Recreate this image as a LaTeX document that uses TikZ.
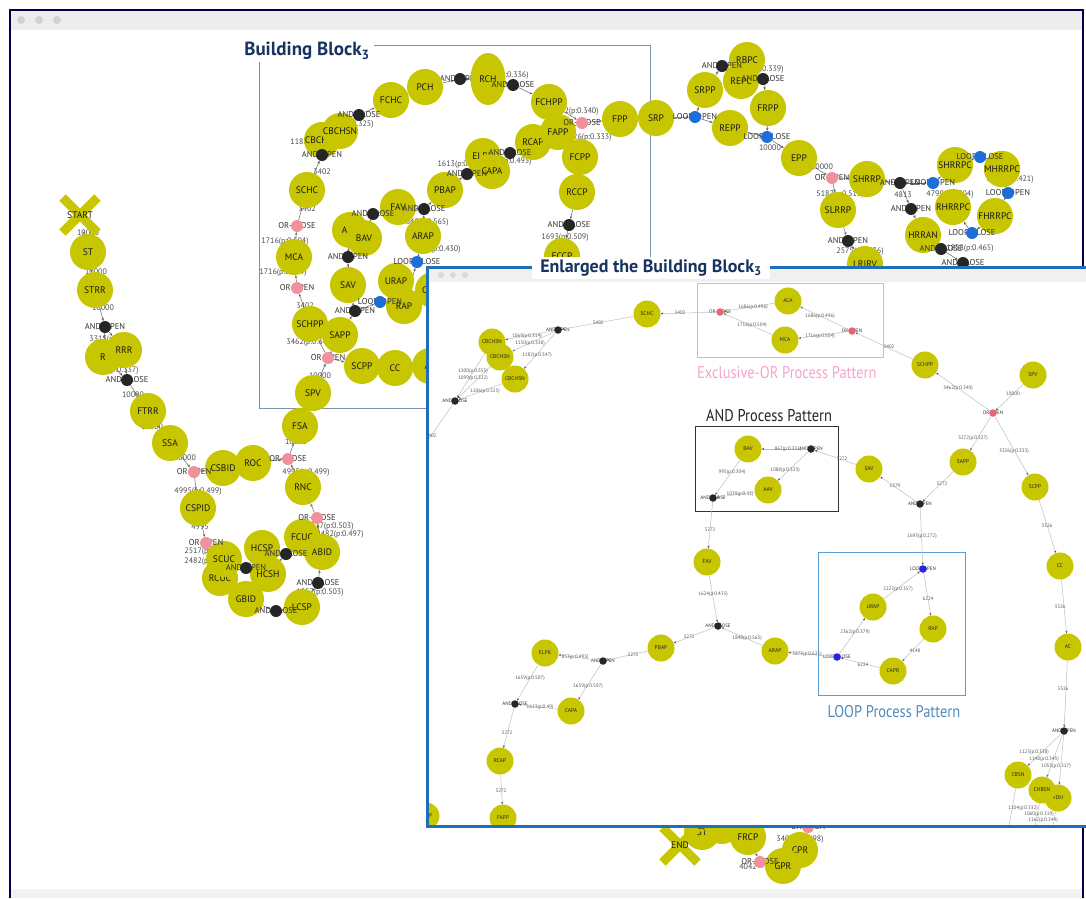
\documentclass[tikz,border=0pt]{standalone}
\usepackage{fontspec}
\setsansfont{PT Sans}
\newfontfamily\patfont{PT Sans}[FakeStretch=0.85]
\usetikzlibrary{arrows.meta,shapes.misc,shapes.geometric}
\definecolor{yel}{RGB}{200,198,0}
\definecolor{andc}{RGB}{38,38,38}
\definecolor{orc}{RGB}{240,145,155}
\definecolor{lpc}{RGB}{30,110,215}
\definecolor{iorc}{RGB}{232,100,115}
\definecolor{ilpc}{RGB}{35,35,225}
\definecolor{navy}{RGB}{22,52,96}
\definecolor{winblue}{RGB}{30,110,185}
\definecolor{xorpink}{RGB}{245,165,205}
\definecolor{loopblue}{RGB}{90,155,210}
\definecolor{bbgray}{RGB}{125,145,170}
\pgfdeclarelayer{gedge}
\pgfsetlayers{gedge,main}
\newcommand\gatenode[5]{\node[gtxt](#1t)at(#2,#3){#4};\node[gdot,fill=#5](#1)at(#2,#3){};}
\tikzset{act/.style={circle,fill=yel,minimum size=36pt,inner sep=0pt,font=\sffamily\fontsize{9.5}{9.5}\selectfont,text=black!90},
gtxt/.style={inner sep=0pt,font=\sffamily\fontsize{8.5}{8.5}\selectfont,text=black!80},
gdot/.style={circle,minimum size=12pt,inner sep=0pt},
elab/.style={inner sep=0pt,font=\sffamily\fontsize{8}{8}\selectfont,text=black!70},
flow/.style={draw=black!60,line width=.5pt,->},
xnode/.style={cross out,draw=yel,line width=9pt,minimum size=26pt,inner sep=0pt},
xtxt/.style={inner sep=0pt,font=\sffamily\fontsize{9.5}{9.5}\selectfont,text=black!90}}
\begin{document}
\begin{tikzpicture}[x=1pt,y=-1pt,>={Stealth[length=3pt,width=2.5pt]}]
\useasboundingbox(0,0)rectangle(1086,898);
\begin{pgfonlayer}{gedge}
\fill[white](0,0)rectangle(1086,898);
\fill[black!7](10,10)rectangle(1083,30);\fill[black!5](10,889)rectangle(1083,898);
\fill[black!18](21,20)circle(4pt);\fill[black!18](39,20)circle(4pt);\fill[black!18](57,20)circle(4pt);
\draw[black!70!blue,line width=1.5pt](10,898)--(10,10)--(1083,10)--(1083,898);
\draw[bbgray,line width=1pt](259,45)rectangle(650,408);
\end{pgfonlayer}
\node[act](st)at(88,252){ST};\node[act](strr)at(95,290){STRR};
\node[act](rr)at(103,357){R};\node[act](rrr)at(124,350){RRR};
\node[act](ftrr)at(148,411){FTRR};\node[act](ssa)at(170,443){SSA};
\node[act](csbid)at(223,468){CSBID};\node[act](roc)at(253,463){ROC};
\node[act](cspid)at(198,508){CSPID};\node[act](rcuc)at(220,578){RCUC};\node[act](scuc)at(224,559){SCUC};
\node[act](hcsp)at(262,548){HCSP};\node[act](hcsh)at(268,574){HCSH};
\node[act](gbid)at(246,599){GBID};\node[act](lcsp)at(302,607){LCSP};
\node[act](fcuc)at(302,537){FCUC};\node[act](abid)at(322,552){ABID};
\node[act](rnc)at(303,487){RNC};\node[act](fsa)at(300,426){FSA};\node[act](spv)at(313,393){SPV};
\node[act](schpp)at(310,324){SCHPP};\node[act](sapp)at(340,335){SAPP};
\node[act](scpp)at(362,366){SCPP};\node[act](cc)at(395,368){CC};\node[act](ac)at(430,366){AC};
\node[act](sav)at(348,285){SAV};\node[act](urap)at(396,281){URAP};\node[act](rap)at(404,306){RAP};
\node[act](capr)at(433,290){CAPR};
\node[act](mca)at(294,257){MCA};\node[act](schc)at(307,190){SCHC};
\node[act](aav)at(350,230){AAV};\node[act](bav)at(364,238){BAV};
\node[act](fav)at(398,207){FAV};\node[act](arap)at(423,236){ARAP};\node[act](pbap)at(445,190){PBAP};
\node[act](elpk)at(483,156){ELPK};\node[act](capa)at(492,171){CAPA};
\node[act](rcap)at(533,142){RCAP};\node[act](fchpp)at(549,102){FCHPP};\node[act](fapp)at(558,132){FAPP};
\node[act](fcpp)at(580,157){FCPP};\node[act](rccp)at(577,192){RCCP};\node[act](fccp)at(562,256){FCCP};
\node[act](fpp)at(620,119){FPP};\node[act](srp)at(656,118){SRP};
\gatenode{g24}{460}{79}{AND-OPEN}{andc}
\node[act,ellipse,minimum width=35pt,minimum height=52pt](rch)at(488,79){RCH};
\node[act](pch)at(425,87){PCH};\node[act](fchc)at(391,100){FCHC};
\node[act](cbchsnb)at(322,140){CBCHSN};\node[act](cbchsn)at(340,131){CBCHSN};
\node[act](srpp)at(705,90){SRPP};\node[act](repp)at(730,128){REPP};
\node[act](repc)at(741,81){REPC};\node[act](rbpc)at(747,60){RBPC};
\node[act](frpp)at(768,108){FRPP};\node[act](epp)at(799,158){EPP};
\node[act](shrrp)at(867,179){SHRRP};\node[act](slrrp)at(838,210){SLRRP};\node[act](lrirv)at(865,264){LRIRV};
\node[act](shrrpc)at(955,165){SHRRPC};\node[act](mhrrpc)at(1002,169){MHRRPC};
\node[act](rhrrpc)at(953,207){RHRRPC};\node[act](fhrrpc)at(995,216){FHRRPC};\node[act](hrran)at(923,235){HRRAN};
\node[act](ct)at(702,832){ST};\node[act](cu)at(722,826){};
\node[act](frcp)at(748,837){FRCP};\node[act](cpr)at(800,850){CPR};\node[act](gpr)at(783,866){GPR};
\node[xnode](start)at(80,215){};\node[xtxt](startt)at(80,215){START};
\node[xnode](endx)at(680,845){};\node[xtxt](endt)at(680,845){END};
\gatenode{g1}{105}{327}{AND-OPEN}{andc}\gatenode{g2}{127}{380}{AND-CLOSE}{andc}
\gatenode{g3}{194}{472}{OR-OPEN}{orc}\gatenode{g4}{288}{459}{OR-CLOSE}{orc}
\gatenode{g5}{206}{543}{OR-OPEN}{orc}\gatenode{g6}{246}{568}{AND-OPEN}{andc}
\gatenode{g7}{276}{611}{AND-CLOSE}{andc}\gatenode{g8}{317}{518}{OR-CLOSE}{orc}
\gatenode{g9}{286}{554}{AND-CLOSE}{andc}\gatenode{g10}{318}{583}{AND-CLOSE}{andc}
\gatenode{g11}{297}{226}{OR-CLOSE}{orc}\gatenode{g12}{297}{288}{OR-OPEN}{orc}
\gatenode{g13}{328}{358}{OR-OPEN}{orc}\gatenode{g14}{355}{311}{AND-OPEN}{andc}
\gatenode{g15}{380}{302}{LOOP-OPEN}{lpc}\gatenode{g16}{417}{262}{LOOP-CLOSE}{lpc}
\gatenode{g17}{348}{257}{AND-OPEN}{andc}\gatenode{g18}{373}{214}{AND-CLOSE}{andc}
\gatenode{g19}{424}{209}{AND-CLOSE}{andc}\gatenode{g20}{467}{174}{AND-OPEN}{andc}
\gatenode{g21}{510}{153}{AND-CLOSE}{andc}\gatenode{g22}{582}{123}{OR-CLOSE}{orc}
\gatenode{g23}{569}{225}{AND-CLOSE}{andc}\gatenode{g25}{513}{85}{AND-CLOSE}{andc}
\gatenode{g26}{359}{115}{AND-CLOSE}{andc}\gatenode{g27}{322}{155}{AND-OPEN}{andc}
\gatenode{g28}{695}{117}{LOOP-OPEN}{lpc}\gatenode{g29}{722}{66}{AND-OPEN}{andc}
\gatenode{g30}{763}{79}{AND-CLOSE}{andc}\gatenode{g31}{767}{137}{LOOP-CLOSE}{lpc}
\gatenode{g32}{832}{178}{OR-OPEN}{orc}\gatenode{g33}{900}{183}{AND-OPEN}{andc}
\gatenode{g34}{933}{183}{LOOP-OPEN}{lpc}\gatenode{g35}{911}{209}{AND-OPEN}{andc}
\gatenode{g36}{848}{241}{AND-OPEN}{andc}\gatenode{g37}{980}{157}{LOOP-CLOSE}{lpc}
\gatenode{g38}{1008}{193}{LOOP-OPEN}{lpc}\gatenode{g39}{972}{233}{LOOP-CLOSE}{lpc}
\gatenode{g40}{941}{249}{AND-CLOSE}{andc}\gatenode{g41}{963}{263}{AND-CLOSE}{andc}
\gatenode{g42}{760}{862}{OR-CLOSE}{orc}\gatenode{g43}{808}{827}{OR-OPEN}{orc}
\begin{pgfonlayer}{gedge}
\draw[flow](start)--(st);\draw[flow](st)--(strr);\draw[flow](strr)--(g1);\draw[flow](g1)--(rr);\draw[flow](g1)--(rrr);
\draw[flow](rr)--(g2);\draw[flow](rrr)--(g2);\draw[flow](g2)--(ftrr);\draw[flow](ftrr)--(ssa);\draw[flow](ssa)--(g3);
\draw[flow](g3)--(csbid);\draw[flow](g3)--(cspid);\draw[flow](csbid)--(roc);\draw[flow](roc)--(g4);\draw[flow](cspid)--(g5);
\draw[flow](g5)--(scuc);\draw[flow](g5)--(rcuc);\draw[flow](scuc)--(g6);\draw[flow](rcuc)--(gbid);\draw[flow](g6)--(hcsp);
\draw[flow](g6)--(hcsh);\draw[flow](hcsp)--(g9);\draw[flow](hcsh)--(g9);\draw[flow](gbid)--(g7);\draw[flow](g7)--(lcsp);
\draw[flow](lcsp)--(g10);\draw[flow](g9)--(fcuc);\draw[flow](g10)--(abid);\draw[flow](fcuc)--(g8);\draw[flow](abid)--(g8);
\draw[flow](g8)--(rnc);\draw[flow](rnc)--(g4);\draw[flow](g4)--(fsa);\draw[flow](fsa)--(spv);\draw[flow](spv)--(g13);
\draw[flow](g13)--(schpp);\draw[flow](g13)--(sapp);\draw[flow](g13)--(scpp);\draw[flow](schpp)--(g12);\draw[flow](g12)--(mca);
\draw[flow](mca)--(g11);\draw[flow](g11)--(schc);\draw[flow](schc)--(g27);\draw[flow](g27)--(cbchsn);\draw[flow](g27)--(cbchsnb);
\draw[flow](cbchsn)--(g26);\draw[flow](g26)--(fchc);\draw[flow](fchc)--(pch);\draw[flow](pch)--(g24);\draw[flow](g24)--(rch);
\draw[flow](rch)--(g25);\draw[flow](g25)--(fchpp);\draw[flow](fchpp)--(g22);\draw[flow](fapp)--(g22);\draw[flow](g22)--(fpp);
\draw[flow](fpp)--(srp);\draw[flow](srp)--(g28);\draw[flow](g28)--(srpp);\draw[flow](g28)--(repp);\draw[flow](srpp)--(g29);
\draw[flow](g29)--(rbpc);\draw[flow](g29)--(repc);\draw[flow](rbpc)--(g30);\draw[flow](repc)--(g30);\draw[flow](g30)--(frpp);
\draw[flow](frpp)--(g31);\draw[flow](repp)--(g31);\draw[flow](g31)--(epp);\draw[flow](epp)--(g32);\draw[flow](g32)--(shrrp);
\draw[flow](g32)--(slrrp);\draw[flow](shrrp)--(g33);\draw[flow](g33)--(g34);\draw[flow](g34)--(shrrpc);\draw[flow](shrrpc)--(g37);
\draw[flow](g37)--(mhrrpc);\draw[flow](mhrrpc)--(g38);\draw[flow](g38)--(fhrrpc);\draw[flow](fhrrpc)--(g39);\draw[flow](g39)--(rhrrpc);
\draw[flow](g33)--(g35);\draw[flow](slrrp)--(g36);\draw[flow](g36)--(lrirv);\draw[flow](g35)--(hrran);\draw[flow](hrran)--(g40);
\draw[flow](g40)--(g41);\draw[flow](sapp)--(g14);\draw[flow](g14)--(sav);\draw[flow](g14)--(g15);\draw[flow](g15)--(rap);
\draw[flow](rap)--(g16);\draw[flow](g16)--(arap);\draw[flow](sav)--(g17);\draw[flow](g17)--(aav);\draw[flow](g17)--(bav);
\draw[flow](bav)--(g18);\draw[flow](g18)--(fav);\draw[flow](fav)--(g19);\draw[flow](arap)--(g19);\draw[flow](g19)--(pbap);
\draw[flow](pbap)--(g20);\draw[flow](g20)--(elpk);\draw[flow](g20)--(capa);\draw[flow](capa)--(g21);\draw[flow](g21)--(rcap);
\draw[flow](rcap)--(fapp);\draw[flow](scpp)--(cc);\draw[flow](cc)--(ac);\draw[flow](fcpp)--(rccp);\draw[flow](rccp)--(g23);
\draw[flow](g23)--(fccp);\draw[flow](g43)--(cpr);\draw[flow](frcp)--(g42);\draw[flow](g42)--(gpr);\draw[flow](ct)--(endx);
\node[elab](m1)at(88,233){10000};\node[elab](m2)at(96,272){10000};\node[elab](m3)at(103,308){10000};
\node[elab](m4)at(113,340){3315(p:0.332)};\node[elab](m5)at(115,371){5335(p:0.337)};
\node[elab](m6)at(133,395){10000};\node[elab](m7)at(152,427){10000};\node[elab](m8)at(185,458){10000};
\node[elab](m9)at(198,492){4995(p:0.499)};\node[elab](m10)at(306,473){4995(p:0.499)};\node[elab](m11)at(296,442){10000};
\node[elab](m12)at(200,527){4995};\node[elab](m13)at(208,552){2517(p:0.503)};\node[elab](m14)at(208,562){2482(p:0.497)};
\node[elab](m15)at(330,527){2517(p:0.503)};\node[elab](m16)at(340,535){2482(p:0.497)};\node[elab](m17)at(320,593){1257(p:0.503)};
\node[elab](m18)at(307,209){3402};\node[elab](m19)at(285,242){1716(p:0.504)};\node[elab](m20)at(283,273){1716(p:0.504)};
\node[elab](m21)at(305,306){3402};\node[elab](m22)at(310,343){3462(p:0.340)};\node[elab](m23)at(320,376){10000};
\node[elab](m24)at(314,143){1182(p:0.347)};\node[elab](m25)at(322,172){3402};\node[elab](m26)at(437,250){2675(p:0.430)};
\node[elab](m27)at(459,165){1613(p:0.49)};\node[elab](m28)at(350,125){1106(p:0.325)};\node[elab](m29)at(505,76){1182(p:0.336)};
\node[elab](m30)at(575,112){3462(p:0.340)};\node[elab](m31)at(588,138){3326(p:0.333)};\node[elab](m32)at(508,162){1659(p:0.493)};
\node[elab](m33)at(425,223){1848(p:0.565)};\node[elab](m34)at(565,238){1693(p:0.509)};\node[elab](m35)at(760,70){1163(p:0.339)};
\node[elab](m36)at(770,148){10000};\node[elab](m37)at(822,167){10000};\node[elab](m38)at(840,195){5187(p:0.513)};
\node[elab](m39)at(903,195){4813};\node[elab](m40)at(950,195){4790(p:0.504)};\node[elab](m41)at(860,252){2575(p:0.536)};
\node[elab](m42)at(1010,180){1978(p:0.421)};\node[elab](m43)at(970,249){1858(p:0.465)};
\node[elab](m44)at(800,840){3402(p:0.498)};\node[elab](m45)at(748,867){4042};
\end{pgfonlayer}
\node[fill=white,inner xsep=4pt,inner ysep=2pt,text=navy,font=\sffamily\bfseries\fontsize{19}{19}\selectfont](bbt)at(307,51){Building Block\textsubscript{3}};
\begin{scope}[act/.style={circle,fill=yel,minimum size=27pt,inner sep=0pt,font=\sffamily\fontsize{5.5}{5.5}\selectfont,text=black!85},
gtxt/.style={inner sep=0pt,font=\sffamily\fontsize{5}{5}\selectfont,text=black!80},
gdot/.style={circle,minimum size=7.5pt,inner sep=0pt},
elab/.style={inner sep=0pt,font=\sffamily\fontsize{5}{5}\selectfont,text=black!65},
flow/.style={draw=black!25,line width=.5pt,-{Stealth[length=2.5pt,width=2pt,color=black!70]}}]
\fill[white](427,267)rectangle(1092,826);
\begin{scope}
\clip(428.5,268.5)rectangle(1086,824.5);
\fill[black!6](428,268)rectangle(1086,282);
\fill[black!15](441,275)circle(3pt);\fill[black!15](453,275)circle(3pt);\fill[black!15](465,275)circle(3pt);
\draw[xorpink,line width=1pt](697,283)rectangle(883,357);
\draw[black!80,line width=1pt](695,426)rectangle(838,511);
\draw[loopblue,line width=1pt](818,552)rectangle(965,695);
\node[act](ischc)at(647,314){SCHC};\node[act](iaca)at(788,301){ACA};\node[act](imca)at(785,340){MCA};
\node[act](ischpp)at(925,365){SCHPP};\node[act](ispv)at(1033,375){SPV};\node[act](isapp)at(963,462){SAPP};
\node[act](iscpp)at(1035,487){SCPP};\node[act](isav)at(869,469){SAV};\node[act](ibav)at(748,449){BAV};
\node[act](iaav)at(768,490){AAV};\node[act](ifav)at(707,562){FAV};\node[act](ipbap)at(661,648){PBAP};
\node[act](iarap)at(775,651){ARAP};\node[act](iurap)at(873,607){URAP};\node[act](irap)at(933,629){RAP};
\node[act](icapr)at(893,671){CAPR};\node[act](ielpk)at(545,653){ELPK};\node[act](icapa)at(571,711){CAPA};
\node[act](ircap)at(500,761){RCAP};\node[act](ifapp)at(503,818){FAPP};\node[act](ilft)at(426,816){SCPP};
\node[act](icc)at(1060,566){CC};\node[act](iac)at(1068,647){AC};
\node[act](icbsn)at(1018,775){CBSN};\node[act](idh)at(1058,798){+DH};\node[act](ichbsn)at(1042,790){CHBSN};
\node[act](icb1)at(492,342){CBCHSN};\node[act](icb2)at(500,357){CBCHSN};\node[act](icb3)at(515,379){CBCHSN};
\gatenode{ig1}{720}{312}{OR-CLOSE}{iorc}\gatenode{ig2}{852}{331}{OR-OPEN}{iorc}\gatenode{ig3}{993}{413}{OR-OPEN}{iorc}
\gatenode{ig4}{920}{504}{AND-OPEN}{andc}\gatenode{ig5}{811}{449}{AND-OPEN}{andc}\gatenode{ig6}{713}{498}{AND-CLOSE}{andc}
\gatenode{ig7}{718}{626}{AND-CLOSE}{andc}\gatenode{ig8}{603}{661}{AND-OPEN}{andc}\gatenode{ig9}{515}{704}{AND-CLOSE}{andc}
\gatenode{ig10}{923}{569}{LOOP-OPEN}{ilpc}\gatenode{ig11}{837}{657}{LOOP-CLOSE}{ilpc}
\gatenode{ig12}{558}{330}{AND-OPEN}{andc}\gatenode{ig13}{455}{401}{AND-CLOSE}{andc}\gatenode{ig14}{1064}{731}{AND-OPEN}{andc}
\coordinate(io1)at(418,455);\coordinate(io2)at(1008,832);\coordinate(io3)at(1034,832);\coordinate(io4)at(1052,832);
\draw[flow](ispv)--(ig3);\draw[flow](ig3)--(ischpp);\draw[flow](ig3)--(isapp);\draw[flow](ig3)--(iscpp);
\draw[flow](ischpp)--(ig2);\draw[flow](ig2)--(iaca);\draw[flow](ig2)--(imca);\draw[flow](iaca)--(ig1);\draw[flow](imca)--(ig1);
\draw[flow](ig1)--(ischc);\draw[flow](ischc)--(ig12);\draw[flow](ig12)--(icb1);\draw[flow](ig12)--(icb2);\draw[flow](ig12)--(icb3);
\draw[flow](icb1)--(ig13);\draw[flow](icb2)--(ig13);\draw[flow](icb3)--(ig13);\draw[flow](ig13)--(io1);
\draw[flow](isapp)--(ig4);\draw[flow](ig4)--(isav);\draw[flow](ig4)--(ig10);\draw[flow](isav)--(ig5);
\draw[flow](ig5)--(ibav);\draw[flow](ig5)--(iaav);\draw[flow](ibav)--(ig6);\draw[flow](iaav)--(ig6);\draw[flow](ig6)--(ifav);
\draw[flow](ifav)--(ig7);\draw[flow](ig7)--(ipbap);\draw[flow](ipbap)--(ig8);\draw[flow](ig8)--(ielpk);\draw[flow](ig8)--(icapa);
\draw[flow](ielpk)--(ig9);\draw[flow](icapa)--(ig9);\draw[flow](ig9)--(ircap);\draw[flow](ircap)--(ifapp);
\draw[flow](ig10)--(irap);\draw[flow](irap)--(icapr);\draw[flow](icapr)--(ig11);\draw[flow](ig11)--(iurap);\draw[flow](iurap)--(ig10);
\draw[flow](ig11)--(iarap);\draw[flow](iarap)--(ig7);
\draw[flow](iscpp)--(icc);\draw[flow](icc)--(iac);\draw[flow](iac)--(ig14);\draw[flow](ig14)--(icbsn);\draw[flow](ig14)--(ichbsn);
\draw[flow](ig14)--(idh);\draw[flow](icbsn)--(io2);\draw[flow](ichbsn)--(io3);\draw[flow](idh)--(io4);
\node[elab](il1)at(680,313){3402};\node[elab](il2)at(598,323){3402};
\node[elab](il3)at(753,307){1686(p:0.496)};\node[elab](il4)at(752,325){1716(p:0.504)};
\node[elab](il5)at(820,316){1686(p:0.496)};\node[elab](il6)at(820,336){1716(p:0.504)};
\node[elab](il7)at(889,347){3402};\node[elab](il8)at(958,388){3462(p:0.340)};\node[elab](il9)at(1013,394){10000};
\node[elab](il10)at(973,438){3272(p:0.327)};\node[elab](il11)at(1014,451){3326(p:0.333)};
\node[elab](il12)at(895,486){1579};\node[elab](il13)at(942,484){3272};\node[elab](il14)at(922,536){1693(p:0.272)};
\node[elab](il15)at(1047,526){3326};\node[elab](il16)at(1060,607){3326};\node[elab](il17)at(1063,689){3326};
\node[elab](il18)at(1034,752){1123(p:0.338)};\node[elab](il19)at(1044,759){1148(p:0.345)};\node[elab](il20)at(1056,766){1055(p:0.317)};
\node[elab](il21)at(1023,808){1104(p:0.332)};\node[elab](il22)at(1039,814){1060(p:0.319)};\node[elab](il23)at(1043,820){1162(p:0.349)};
\node[elab](il24)at(842,459){3272};\node[elab](il25)at(788,449){867(p:0.351)};\node[elab](il26)at(785,470){1088(p:0.333)};
\node[elab](il27)at(732,472){995(p:0.304)};\node[elab](il28)at(740,494){1039(p:0.31)};
\node[elab](il29)at(710,530){3272};\node[elab](il30)at(713,594){1624(p:0.435)};\node[elab](il31)at(747,638){1848(p:0.565)};
\node[elab](il32)at(689,637){3272};\node[elab](il33)at(633,655){3272};\node[elab](il34)at(575,657){853(p:0.493)};
\node[elab](il35)at(588,686){1659(p:0.507)};\node[elab](il36)at(530,678){1659(p:0.507)};\node[elab](il37)at(540,707){1613(p:0.49)};
\node[elab](il38)at(507,733){3272};\node[elab](il39)at(501,791){3272};\node[elab](il40)at(807,654){3875(p:0.621)};
\node[elab](il41)at(855,632){2362(p:0.379)};\node[elab](il42)at(898,589){2222(p:0.357)};\node[elab](il43)at(928,599){6224};
\node[elab](il44)at(915,651){4148};\node[elab](il45)at(863,665){6224};
\node[elab](il46)at(527,336){1069(p:0.314)};\node[elab](il47)at(530,343){1150(p:0.338)};\node[elab](il48)at(537,355){1182(p:0.347)};
\node[elab](il49)at(473,371){1300(p:0.355)};\node[elab](il50)at(473,378){1099(p:0.322)};\node[elab](il51)at(485,391){1106(p:0.325)};
\node[elab](il52)at(431,436){3402};
\node[anchor=west,inner sep=0pt,text=xorpink,font=\patfont\fontsize{17}{17}\selectfont](xorl)at(697,373){Exclusive-OR Process Pattern};
\node[inner sep=0pt,text=black!85,font=\patfont\fontsize{17}{17}\selectfont](andl)at(769,416){AND Process Pattern};
\node[inner sep=0pt,text=loopblue!90!black,font=\patfont\fontsize{17}{17}\selectfont](loopl)at(894,712){LOOP Process Pattern};
\end{scope}
\draw[winblue,line width=3pt](427,267)rectangle(1092,826);
\node[fill=white,inner xsep=8pt,inner ysep=3pt,text=navy,font=\sffamily\bfseries\fontsize{18}{18}\selectfont](ebt)at(651,268){Enlarged the Building Block\textsubscript{3}};
\end{scope}
\end{tikzpicture}
\end{document}
